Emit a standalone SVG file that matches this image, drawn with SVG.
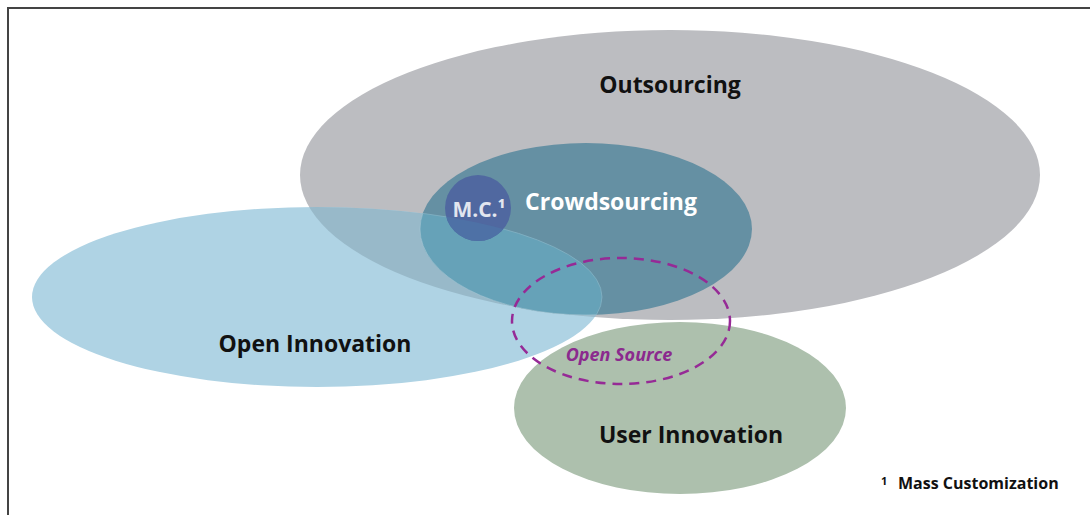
<svg xmlns="http://www.w3.org/2000/svg" width="1090" height="515" viewBox="0 0 1090 515">
<style>
.lbl{font-family:"Open Sans","Liberation Sans",sans-serif;font-weight:700;text-anchor:middle}
.fn{font-family:"Open Sans","Liberation Sans",sans-serif;font-weight:700;fill:#111}
.dark{fill:#111}
.light{fill:#fff}
</style>
<defs>
<ellipse id="eOut" cx="670" cy="175" rx="370" ry="145"/>
<ellipse id="eCrowd" cx="586" cy="229" rx="166" ry="86"/>
<ellipse id="eOI" cx="317" cy="297" rx="285" ry="90"/>
<clipPath id="cOut"><use href="#eOut"/></clipPath>
<clipPath id="cCrowd"><use href="#eCrowd"/></clipPath>
<clipPath id="cOI"><use href="#eOI"/></clipPath>
</defs>
<rect width="1090" height="515" fill="#fff"/>
<path d="M8 515 V8 H1090" fill="none" stroke="#444" stroke-width="2"/>
<g id="outsourcing">
<use href="#eOut" fill="#bcbdc1"/>
<text class="lbl dark" x="670" y="93" font-size="23">Outsourcing</text>
</g>
<g id="open-innovation">
<use href="#eOI" fill="#afd3e4"/>
<use href="#eOI" fill="#98b9c9" clip-path="url(#cOut)"/>
<text class="lbl dark" x="315" y="352" font-size="23">Open Innovation</text>
</g>
<g id="crowdsourcing">
<use href="#eCrowd" fill="#6590a3"/>
<use href="#eOI" fill="#66a2b8" clip-path="url(#cCrowd)"/>
<use href="#eCrowd" fill="none" stroke="#a9cbd8" stroke-width="0.6" clip-path="url(#cOI)"/>
<use href="#eOI" fill="none" stroke="#8fb9c9" stroke-width="0.6" clip-path="url(#cCrowd)"/>
<text class="lbl light" x="611" y="210" font-size="23">Crowdsourcing</text>
</g>
<g id="mass-customization">
<circle cx="478" cy="208" r="33" fill="#5068a0"/>
<circle cx="478" cy="208" r="33" fill="#4e71a6" clip-path="url(#cOI)"/>
<text class="lbl" x="479" y="217" font-size="21" fill="#e2e6ef">M.C.¹</text>
</g>
<g id="user-innovation">
<ellipse cx="680" cy="408" rx="166" ry="86" fill="#adc0ad"/>
<text class="lbl dark" x="691" y="443" font-size="23">User Innovation</text>
</g>
<g id="open-source">
<ellipse cx="621" cy="321" rx="109" ry="63" fill="none" stroke="#962a96" stroke-width="2.5" stroke-dasharray="10 7"/>
<text class="lbl" x="619" y="361" font-size="18" font-style="italic" fill="#8b2a8e" font-weight="600">Open Source</text>
</g>
<g id="footnote">
<text class="fn" x="881" y="485" font-size="11">1</text>
<text class="fn" x="898" y="489" font-size="16">Mass Customization</text>
</g>
</svg>
